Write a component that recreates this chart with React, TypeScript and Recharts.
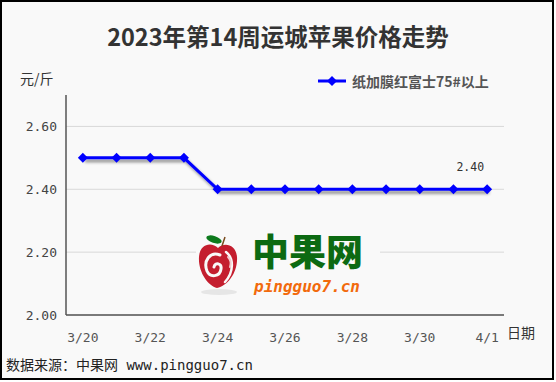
import React from 'react';
import { LineChart, Line, XAxis, YAxis, CartesianGrid, LabelList } from 'recharts';

const dates = ['3/20', '3/21', '3/22', '3/23', '3/24', '3/25', '3/26', '3/27', '3/28', '3/29', '3/30', '3/31', '4/1'];
const prices = [2.5, 2.5, 2.5, 2.5, 2.4, 2.4, 2.4, 2.4, 2.4, 2.4, 2.4, 2.4, 2.4];
const labelDates = ['3/20', '3/22', '3/24', '3/26', '3/28', '3/30', '4/1'];
const yTicks = [2.0, 2.2, 2.4, 2.6];
const seriesName = '纸加膜红富士75#以上';
const title = '2023年第14周运城苹果价格走势';

const data = dates.map((d, i) => ({ idx: i, date: d, price: prices[i] }));
const labelTicks = labelDates.map((d) => dates.indexOf(d));
const markTicks = dates.map((_, i) => i + 0.5);

const CJK = '"Noto Sans CJK SC", sans-serif';
const MONO = '"DejaVu Sans Mono", "Noto Sans CJK SC", monospace';
const BLUE = '#0000ff';

const Diamond = (props: any) => {
  const { cx, cy } = props;
  if (cx == null || cy == null) return null;
  const r = 5;
  return (
    <path
      d={`M${cx},${cy - r}L${cx + r},${cy}L${cx},${cy + r}L${cx - r},${cy}Z`}
      fill={BLUE}
      stroke="none"
    />
  );
};

// short upward tick at the band edge
const EdgeTick = (props: any) => {
  const { x, y } = props;
  return <line x1={x} y1={y - 6} x2={x} y2={y} stroke="#555" strokeWidth={1.2} />;
};

const LastLabel = (props: any) => {
  const { x, y, index, value } = props;
  if (index !== dates.length - 1) return null;
  return (
    <text x={x - 3} y={y - 18} textAnchor="end" fontSize={11.5} fill="#333" fontFamily={MONO}>
      {Number(value).toFixed(2)}
    </text>
  );
};

const Watermark = () => (
  <svg width={556} height={382} style={{ position: 'absolute', left: 0, top: 0, pointerEvents: 'none' }}>
    <rect x={196} y={231} width={184} height={68} fill="#f9f9f9" />
    <ellipse cx={219} cy={292} rx={18} ry={3} fill="#e6e6e6" />
    <g transform="translate(198,242)">
      <path
        d="M20 6 C14 0, 2 1, 1 15 C0 30, 10 44, 19 46 C30 44, 40 30, 39 15 C38 2, 26 0, 20 6 Z"
        fill="#c41e2f"
      />
      <path
        d="M22 13 C12 9, 5 19, 9 29 C12 36, 22 35, 23 27 C24 21, 17 20, 16 25"
        fill="none"
        stroke="#f9f9f9"
        strokeWidth={3}
        strokeLinecap="round"
      />
      <path d="M28 10 C36 16, 36 30, 27 40" fill="none" stroke="#f9f9f9" strokeWidth={2.5} strokeLinecap="round" />
      <path d="M30 15 C33 18, 33 22, 32 25" fill="none" stroke="#f3c9cd" strokeWidth={2} strokeLinecap="round" />
    </g>
    <line x1={222} y1={246} x2={225} y2={237} stroke="#7a4a1e" strokeWidth={1.5} />
    <ellipse cx={214} cy={239.5} rx={8} ry={3.5} fill="#0d7a1d" transform="rotate(18 214 239.5)" />
    <text x={252} y={266} fontSize={37} fontWeight={900} fill="#0c6a12" fontFamily={CJK}>
      中果网
    </text>
    <text x={254} y={292} fontSize={16} fontWeight={700} fontStyle="italic" fill="#f26a0c" fontFamily={MONO}>
      pingguo7.cn
    </text>
  </svg>
);

export default function App() {
  return (
    <div style={{ position: 'absolute', left: 0, top: 0, width: 556, height: 382, background: '#fff' }}>
      <div
        style={{
          position: 'absolute',
          left: 0,
          top: 0,
          width: 550,
          height: 376,
          border: '2px solid #000',
          background: '#f9f9f9',
        }}
      />
      <div
        style={{
          position: 'absolute',
          left: 0,
          width: 556,
          top: 21,
          textAlign: 'center',
          fontFamily: CJK,
          fontWeight: 700,
          fontSize: 23.5,
          lineHeight: '30px',
          color: '#333',
        }}
      >
        {title}
      </div>
      <div style={{ position: 'absolute', left: 20, top: 68, fontFamily: CJK, fontSize: 14, lineHeight: '20px', color: '#333' }}>
        元/斤
      </div>
      <div
        style={{
          position: 'absolute',
          left: 318,
          top: 71,
          display: 'flex',
          alignItems: 'center',
          fontFamily: CJK,
          fontSize: 14,
          fontWeight: 700,
          color: '#555',
          lineHeight: '20px',
        }}
      >
        <svg width={30} height={12} style={{ marginRight: 4 }}>
          <line x1={0} y1={6} x2={28} y2={6} stroke={BLUE} strokeWidth={3} />
          <path d="M14,1L19,6L14,11L9,6Z" fill={BLUE} />
        </svg>
        {seriesName}
      </div>
      <div style={{ position: 'absolute', left: 507, top: 322, fontFamily: CJK, fontSize: 14, lineHeight: '20px', color: '#333' }}>
        日期
      </div>
      <div style={{ position: 'absolute', left: 6, top: 355, fontFamily: MONO, fontSize: 14, lineHeight: '20px', color: '#222' }}>
        数据来源：中果网 www.pingguo7.cn
      </div>
      <div style={{ position: 'absolute', left: 0, top: 0 }}>
        <LineChart width={556} height={382} data={data} margin={{ top: 95, right: 52, bottom: 37, left: 8 }}>
          <defs>
            <filter id="sh" x="-10%" y="-50%" width="130%" height="250%">
              <feDropShadow dx={2} dy={3} stdDeviation={1.6} floodColor="#000" floodOpacity={0.45} />
            </filter>
          </defs>
          <CartesianGrid vertical={false} stroke="#d9d9d9" horizontalValues={yTicks} />
          <XAxis
            xAxisId="marks"
            dataKey="idx"
            type="number"
            domain={[-0.5, dates.length - 0.5]}
            ticks={markTicks}
            height={0}
            tickSize={0}
            tickMargin={0}
            axisLine={false}
            tickLine={false}
            tick={<EdgeTick />}
            interval={0}
            allowDataOverflow
          />
          <XAxis
            xAxisId="main"
            dataKey="idx"
            type="number"
            domain={[-0.5, dates.length - 0.5]}
            ticks={labelTicks}
            tickFormatter={(v) => dates[v] ?? ''}
            height={30}
            tickSize={0}
            tickMargin={18}
            tickLine={false}
            axisLine={{ stroke: '#555', strokeWidth: 1.5 }}
            tick={{ fontSize: 13, fill: '#555', fontFamily: MONO }}
            interval={0}
            allowDataOverflow
          />
          <YAxis
            domain={[2.0, 2.7]}
            ticks={yTicks}
            tickFormatter={(v) => Number(v).toFixed(2)}
            width={58}
            tickSize={0}
            tickMargin={9}
            tickLine={false}
            axisLine={{ stroke: '#555', strokeWidth: 1.5 }}
            tick={{ fontSize: 13, fill: '#444', fontFamily: MONO }}
            interval={0}
            allowDataOverflow
          />
          <Line
            xAxisId="main"
            type="linear"
            dataKey="price"
            stroke={BLUE}
            strokeWidth={3}
            dot={<Diamond />}
            activeDot={false}
            filter="url(#sh)"
            isAnimationActive={false}
          >
            <LabelList dataKey="price" content={<LastLabel />} />
          </Line>
        </LineChart>
      </div>
      <Watermark />
    </div>
  );
}
